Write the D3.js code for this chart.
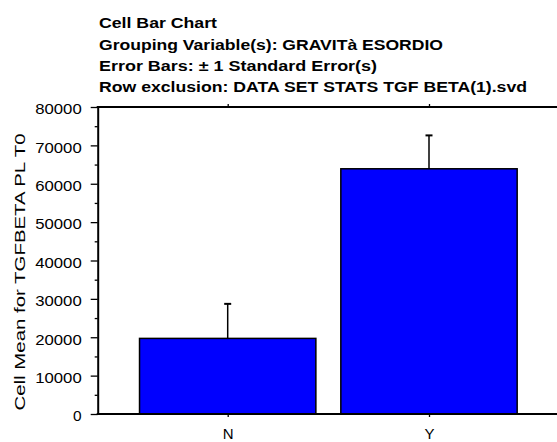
<!DOCTYPE html>
<html>
<head>
<meta charset="utf-8">
<script src="https://cdn.jsdelivr.net/npm/d3@7"></script>
<style>
  html, body { margin: 0; padding: 0; background: #fff; }
  svg { display: block; }
  text { font-family: "Liberation Sans", Arial, sans-serif; fill: #000; }
</style>
</head>
<body>
<svg id="chart" width="557" height="442"></svg>
<script>
// ---- data ----
const categories = ["N", "Y"];
const means = [19700, 63900];
const stdErrors = [9000, 8700];
const yTicks = [0, 10000, 20000, 30000, 40000, 50000, 60000, 70000, 80000];
const yMinorTicks = [5000, 15000, 25000, 35000, 45000, 55000, 65000, 75000];
const titleLines = [
  "Cell Bar Chart",
  "Grouping Variable(s): GRAVITà ESORDIO",
  "Error Bars: ± 1 Standard Error(s)",
  "Row exclusion: DATA SET STATS TGF BETA(1).svd"
];
const yLabel = "Cell Mean for TGFBETA PL T0";

// ---- layout ----
const svg = d3.select("#chart");
const plot = { left: 97.7, right: 570, top: 107, bottom: 414 };

const y = d3.scaleLinear().domain([0, 80000]).range([plot.bottom, plot.top]);
const x = d3.scalePoint().domain(categories).range([227.7, 429]);
const barW = x.step() * 0.876;

// titles
const titleWidths = [118, 344, 278, 428];
svg.append("g").selectAll("text").data(titleLines).join("text")
  .attr("x", 99)
  .attr("y", (d, i) => 28.3 + i * 21.3)
  .attr("font-size", 14.5)
  .attr("font-weight", "bold")
  .attr("textLength", (d, i) => titleWidths[i])
  .attr("lengthAdjust", "spacingAndGlyphs")
  .text(d => d);

// bars
svg.append("g").selectAll("rect").data(categories).join("rect")
  .attr("x", d => x(d) - barW / 2)
  .attr("y", (d, i) => y(means[i]))
  .attr("width", barW)
  .attr("height", (d, i) => y(0) - y(means[i]))
  .attr("fill", "#0000ff")
  .attr("stroke", "#000")
  .attr("stroke-width", 1.5);

// error bars (upper only)
const eb = svg.append("g").attr("stroke", "#000");
eb.selectAll("line.v").data(categories).join("line").attr("class", "v")
  .attr("x1", d => x(d)).attr("x2", d => x(d))
  .attr("y1", (d, i) => y(means[i]))
  .attr("y2", (d, i) => y(means[i] + stdErrors[i]))
  .attr("stroke-width", 1.5);
eb.selectAll("line.c").data(categories).join("line").attr("class", "c")
  .attr("x1", d => x(d) - 3.5).attr("x2", d => x(d) + 3.5)
  .attr("y1", (d, i) => y(means[i] + stdErrors[i]))
  .attr("y2", (d, i) => y(means[i] + stdErrors[i]))
  .attr("stroke-width", 2);

// left axis
const fmt = d3.format("d");
const gy = svg.append("g").attr("transform", `translate(${plot.left},0)`)
  .call(d3.axisLeft(y).tickValues(yTicks).tickFormat(fmt)
    .tickSize(7).tickPadding(9).tickSizeOuter(0));
gy.select(".domain").attr("stroke-width", 2);
gy.selectAll(".tick line").attr("stroke-width", 1.3);
gy.selectAll(".tick text")
  .attr("font-size", 15.5)
  .attr("font-family", "Liberation Sans, Arial, sans-serif")
  .attr("textLength", d => fmt(d).length === 1 ? 8.6 : fmt(d).length * 9.3)
  .attr("lengthAdjust", "spacingAndGlyphs")
  .attr("dy", "0.44em");
const gyMinor = svg.append("g").attr("transform", `translate(${plot.left},0)`)
  .call(d3.axisLeft(y).tickValues(yMinorTicks).tickSize(3).tickFormat("").tickSizeOuter(0));
gyMinor.select(".domain").remove();
gyMinor.selectAll(".tick line").attr("stroke-width", 1.3);

// bottom axis
const gx = svg.append("g").attr("transform", `translate(0,${plot.bottom})`)
  .call(d3.axisBottom(x).tickSize(3).tickPadding(11).tickSizeOuter(0));
gx.select(".domain").attr("d", `M${plot.left - 1},0H${plot.right}`).attr("stroke-width", 2);
gx.selectAll(".tick line").attr("stroke-width", 1.3);
gx.selectAll(".tick text")
  .attr("font-size", 15)
  .attr("font-family", "Liberation Sans, Arial, sans-serif");

// top axis
const gt = svg.append("g").attr("transform", `translate(0,${plot.top})`)
  .call(d3.axisTop(x).tickSize(3).tickFormat("").tickSizeOuter(0));
gt.select(".domain").attr("d", `M${plot.left - 1},0H${plot.right}`).attr("stroke-width", 2);
gt.selectAll(".tick line").attr("stroke-width", 1.3);

// y label
svg.append("text")
  .attr("transform", "rotate(-90)")
  .attr("x", -272)
  .attr("y", 25)
  .attr("text-anchor", "middle")
  .attr("font-size", 14.5)
  .attr("textLength", 277)
  .attr("lengthAdjust", "spacingAndGlyphs")
  .text(yLabel);
</script>
</body>
</html>
